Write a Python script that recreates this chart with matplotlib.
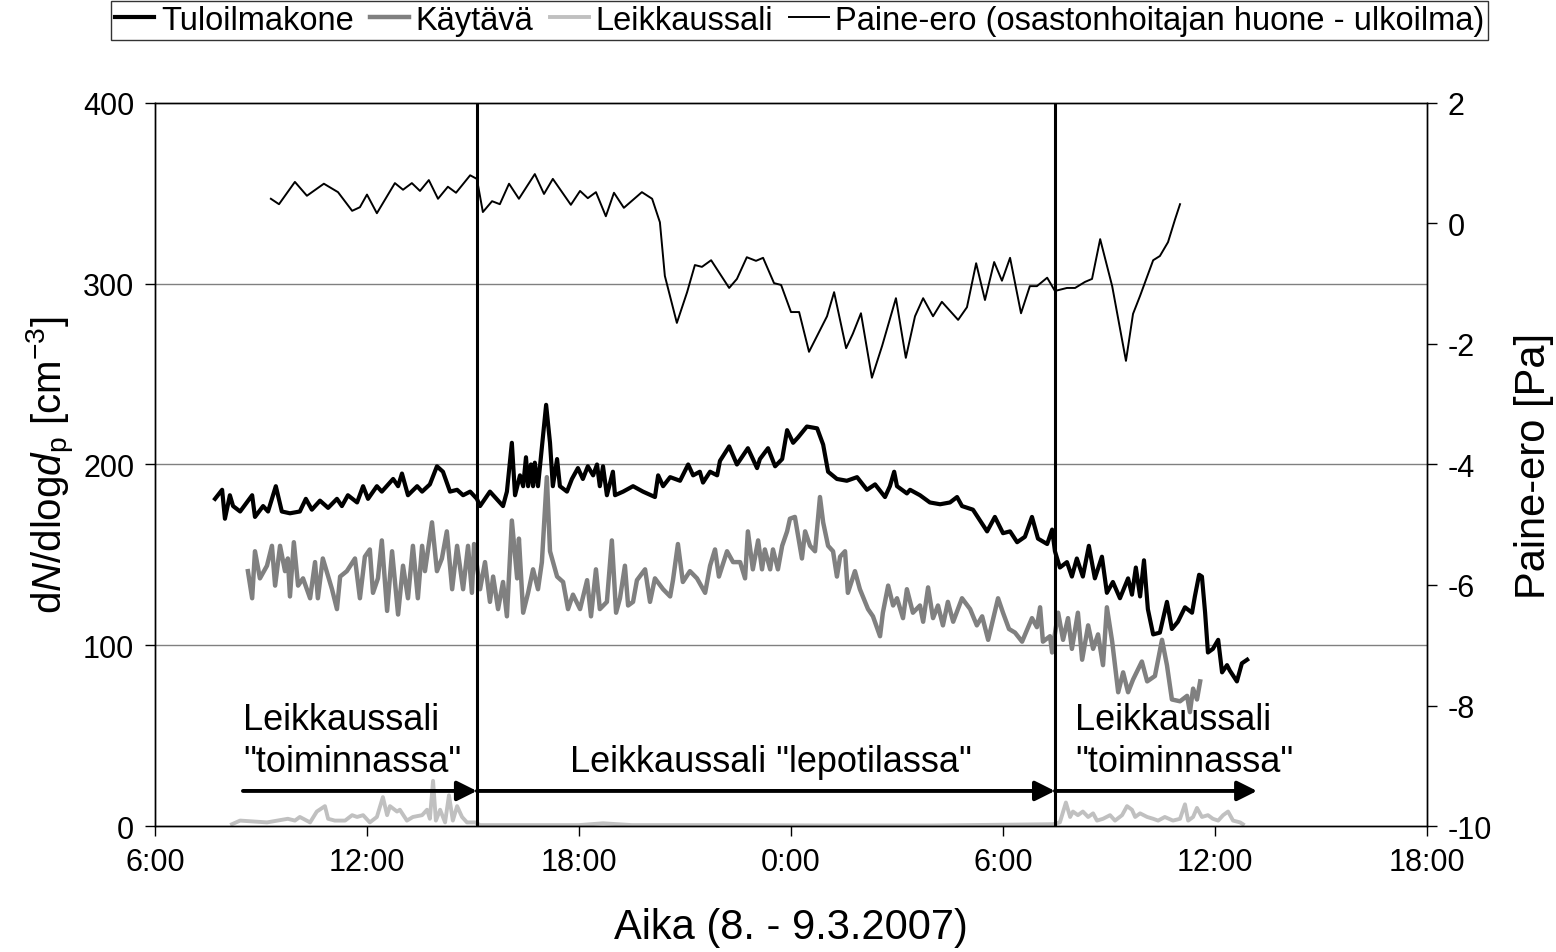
import numpy as np
import matplotlib
matplotlib.use("Agg")
import matplotlib.pyplot as plt

plt.rcParams['font.family'] = ['Liberation Sans', 'DejaVu Sans']
plt.rcParams['mathtext.fontset'] = 'custom'
plt.rcParams['mathtext.rm'] = 'Liberation Sans'
plt.rcParams['mathtext.it'] = 'Liberation Sans:italic'
plt.rcParams['axes.unicode_minus'] = False

# time in hours from 0:00 on 8.3.2007 (24 = midnight, 30 = 6:00 on 9.3.)
t_tulo = [7.70, 7.90, 7.98, 8.12, 8.21, 8.41, 8.75, 8.83, 9.06, 9.20, 9.42, 9.59, 9.82, 10.10,
          10.27, 10.44, 10.67, 10.90, 11.15, 11.29, 11.46, 11.72, 11.89, 12.03, 12.28, 12.42,
          12.74, 12.88, 12.99, 13.16, 13.42, 13.56, 13.78, 13.98, 14.15, 14.35, 14.55, 14.72,
          14.92, 15.11, 15.20, 15.48, 15.85, 15.96, 16.10, 16.19, 16.33, 16.42, 16.50, 16.56,
          16.64, 16.70, 16.75, 16.84, 17.07, 17.18, 17.26, 17.38, 17.46, 17.66, 17.80, 17.97,
          18.11, 18.25, 18.40, 18.51, 18.59, 18.68, 18.79, 18.96, 19.02, 19.25, 19.53, 19.81,
          20.15, 20.24, 20.38, 20.58, 20.86, 21.09, 21.23, 21.42, 21.51, 21.71, 21.91, 21.99,
          22.25, 22.47, 22.78, 23.04, 23.12, 23.35, 23.55, 23.75, 23.89, 24.06, 24.20, 24.45,
          24.74, 24.91, 25.05, 25.30, 25.58, 25.87, 26.15, 26.38, 26.66, 26.80, 26.92, 27.00,
          27.28, 27.37, 27.65, 27.93, 28.22, 28.50, 28.70, 28.84, 29.15, 29.55, 29.77, 30.00,
          30.20, 30.40, 30.62, 30.82, 30.99, 31.25, 31.39, 31.47, 31.61, 31.81, 31.95, 32.09,
          32.26, 32.43, 32.60, 32.80, 32.94, 33.11, 33.31, 33.54, 33.65, 33.76, 33.88, 33.99,
          34.10, 34.25, 34.44, 34.64, 34.78, 34.95, 35.15, 35.35, 35.43, 35.55, 35.63, 35.72,
          35.80, 35.94, 36.09, 36.20, 36.34, 36.42, 36.62, 36.76, 36.91]
tulo = [181, 186, 170, 183, 177, 174, 183, 171, 177, 174, 188, 174, 173, 174,
        181, 175, 180, 176, 181, 177, 183, 179, 188, 181, 188, 185,
        192, 188, 195, 183, 188, 185, 189, 199, 196, 185, 186, 183,
        185, 181, 177, 185, 177, 185, 212, 183, 194, 188, 204, 188,
        200, 188, 201, 188, 233, 212, 188, 203, 188, 185, 192, 198,
        192, 199, 194, 200, 188, 199, 183, 196, 183, 185, 188, 185,
        182, 194, 188, 193, 191, 200, 194, 196, 190, 196, 194, 202,
        210, 200, 209, 198, 203, 209, 199, 203, 219, 212, 215, 221,
        220, 211, 196, 192, 191, 193, 186, 189, 182, 188, 196, 188,
        184, 186, 183, 179, 178, 179, 182, 177, 175, 163, 171, 162,
        163, 157, 160, 171, 159, 156, 164, 152, 143, 146, 138, 148,
        138, 155, 137, 149, 129, 135, 126, 137, 128, 143, 127, 147,
        120, 106, 107, 124, 109, 113, 121, 118, 127, 139, 138, 118,
        96, 98, 103, 85, 89, 86, 80, 90, 92]

t_kaytava = [8.63, 8.75, 8.83, 8.97, 9.17, 9.31, 9.40, 9.54, 9.68, 9.76, 9.82, 9.93, 10.05,
             10.19, 10.39, 10.53, 10.61, 10.75, 11.01, 11.15, 11.24, 11.43, 11.66, 11.80, 11.94,
             12.08, 12.17, 12.31, 12.42, 12.57, 12.71, 12.88, 13.02, 13.16, 13.30, 13.44, 13.56,
             13.64, 13.84, 13.98, 14.12, 14.26, 14.41, 14.55, 14.72, 14.86, 14.97, 15.03, 15.20,
             15.34, 15.48, 15.57, 15.71, 15.85, 15.96, 16.10, 16.25, 16.30, 16.42, 16.56, 16.70,
             16.84, 16.95, 17.09, 17.18, 17.38, 17.55, 17.69, 17.83, 18.03, 18.23, 18.34, 18.48,
             18.59, 18.79, 18.93, 19.05, 19.16, 19.30, 19.39, 19.53, 19.64, 19.87, 20.01, 20.15,
             20.38, 20.58, 20.66, 20.80, 20.94, 21.14, 21.34, 21.57, 21.71, 21.85, 21.96, 22.19,
             22.36, 22.56, 22.70, 22.78, 22.92, 23.07, 23.18, 23.26, 23.41, 23.49, 23.63, 23.75,
             23.89, 23.97, 24.11, 24.31, 24.40, 24.54, 24.68, 24.82, 24.91, 25.05, 25.19, 25.30,
             25.39, 25.53, 25.61, 25.81, 25.95, 26.18, 26.32, 26.52, 26.60, 26.75, 26.89, 27.00,
             27.17, 27.28, 27.45, 27.65, 27.74, 27.88, 28.02, 28.16, 28.30, 28.44, 28.59, 28.84,
             29.07, 29.26, 29.41, 29.58, 29.86, 30.00, 30.17, 30.34, 30.54, 30.82, 30.96, 31.05,
             31.13, 31.33, 31.39, 31.56, 31.70, 31.84, 31.95, 32.12, 32.24, 32.41, 32.55, 32.69,
             32.83, 32.94, 33.09, 33.26, 33.40, 33.54, 33.68, 33.93, 34.08, 34.30, 34.50, 34.64,
             34.78, 35.01, 35.21, 35.29, 35.38, 35.49, 35.58]
kaytava = [141, 126, 152, 137, 144, 155, 133, 155, 141, 148, 127, 157, 133,
           137, 126, 146, 126, 148, 131, 120, 138, 141, 148, 126, 149,
           153, 129, 137, 158, 119, 152, 117, 144, 126, 155, 126, 155,
           141, 168, 141, 148, 163, 131, 155, 131, 155, 129, 156, 131,
           146, 124, 138, 120, 135, 116, 169, 137, 159, 118, 129, 142,
           131, 146, 193, 152, 138, 135, 120, 128, 120, 136, 116, 142,
           120, 124, 158, 118, 126, 144, 122, 124, 136, 142, 124, 137,
           131, 127, 136, 156, 135, 141, 137, 129, 144, 153, 138, 152,
           146, 146, 137, 163, 142, 158, 142, 153, 142, 153, 142, 155,
           163, 170, 171, 148, 163, 155, 152, 182, 168, 155, 152, 138,
           149, 152, 129, 141, 131, 120, 116, 105, 118, 133, 122, 126,
           115, 131, 118, 122, 113, 132, 115, 122, 111, 124, 113, 126,
           120, 111, 116, 103, 126, 118, 109, 107, 102, 115, 110, 121,
           102, 105, 96, 118, 103, 115, 98, 118, 92, 111, 98, 106,
           89, 121, 102, 74, 85, 74, 81, 91, 80, 83, 103, 89,
           70, 69, 72, 63, 76, 70, 80]

t_sali = [8.18, 8.41, 9.17, 9.76, 9.96, 10.10, 10.39, 10.58, 10.81, 10.90, 11.09, 11.38, 11.58,
          11.72, 11.89, 12.08, 12.28, 12.45, 12.57, 12.65, 12.85, 12.93, 13.13, 13.30, 13.56,
          13.70, 13.78, 13.87, 13.95, 14.07, 14.21, 14.32, 14.43, 14.55, 14.69, 14.83, 15.06,
          15.20, 16.00, 18.00, 18.68, 19.50, 22.00, 25.00, 28.00, 31.42, 31.61, 31.78, 31.90,
          31.98, 32.12, 32.26, 32.41, 32.55, 32.66, 32.83, 33.03, 33.17, 33.37, 33.51, 33.65,
          33.74, 33.88, 34.08, 34.25, 34.39, 34.58, 34.81, 35.01, 35.15, 35.24, 35.38, 35.49,
          35.63, 35.80, 35.94, 36.09, 36.23, 36.37, 36.51, 36.71, 36.79]
sali = [1, 3, 2, 4, 3, 5, 2, 8, 11, 4, 3, 3, 6,
        5, 6, 2, 5, 16, 6, 11, 8, 9, 3, 5, 6,
        9, 4, 25, 3, 9, 2, 17, 3, 11, 5, 2, 2,
        0.5, 0.5, 0.5, 1.5, 0.5, 0.5, 0.3, 0.3, 1, 2, 13, 5,
        8, 6, 8, 5, 7, 3, 4, 6, 3, 6, 11, 9,
        5, 7, 5, 4, 3, 5, 3, 4, 12, 3, 5, 10,
        5, 6, 4, 3, 6, 8, 3, 2, 1]

t_paine = [9.28, 9.51, 9.96, 10.30, 10.78, 11.18, 11.58, 11.80, 12.00, 12.28, 12.79, 13.02, 13.27,
           13.50, 13.75, 14.01, 14.29, 14.52, 14.92, 15.11, 15.28, 15.54, 15.76, 16.02, 16.30,
           16.75, 17.01, 17.26, 17.77, 18.03, 18.25, 18.48, 18.76, 18.99, 19.27, 19.78, 20.07,
           20.29, 20.43, 20.77, 21.06, 21.28, 21.48, 21.74, 22.25, 22.47, 22.75, 23.01, 23.21,
           23.52, 23.72, 24.00, 24.23, 24.51, 25.02, 25.22, 25.56, 25.75, 25.98, 26.29, 26.58,
           26.97, 27.25, 27.51, 27.74, 28.02, 28.27, 28.73, 28.98, 29.24, 29.49, 29.75, 29.97,
           30.20, 30.51, 30.76, 30.96, 31.25, 31.47, 31.81, 32.04, 32.32, 32.52, 32.75, 33.09,
           33.48, 33.68, 33.88, 34.25, 34.44, 34.67, 34.87, 35.01]
paine = [0.41, 0.32, 0.69, 0.46, 0.66, 0.52, 0.21, 0.27, 0.48, 0.17, 0.67, 0.56, 0.67,
         0.54, 0.72, 0.41, 0.61, 0.51, 0.80, 0.74, 0.19, 0.37, 0.32, 0.66, 0.41,
         0.82, 0.49, 0.74, 0.31, 0.54, 0.42, 0.52, 0.12, 0.51, 0.26, 0.52, 0.41,
         0.02, -0.87, -1.65, -1.14, -0.69, -0.72, -0.61, -1.07, -0.92, -0.56, -0.62, -0.57,
         -0.99, -1.02, -1.47, -1.47, -2.13, -1.54, -1.14, -2.07, -1.83, -1.49, -2.56, -2.03,
         -1.24, -2.23, -1.54, -1.24, -1.54, -1.30, -1.60, -1.39, -0.66, -1.27, -0.64, -0.95,
         -0.57, -1.49, -1.04, -1.04, -0.90, -1.12, -1.07, -1.07, -0.97, -0.92, -0.26, -1.04,
         -2.28, -1.50, -1.20, -0.61, -0.54, -0.31, 0.07, 0.32]

x_ticks = [6, 12, 18, 24, 30, 36, 42]
x_labels = ['6:00', '12:00', '18:00', '0:00', '6:00', '12:00', '18:00']
phase_changes = [15.11, 31.47]
arrow_y = 19.4
arrows = [(8.49, 15.11), (15.11, 31.47), (31.47, 37.19)]

fig = plt.figure(figsize=(15.56, 9.53), dpi=100)
ax = fig.add_axes([0.0996, 0.1322, 0.8175, 0.7587])
ax2 = ax.twinx()

ax.set_xlim(6, 42)
ax.set_ylim(0, 400)
ax.set_yticks([0, 100, 200, 300, 400])
ax.set_xticks(x_ticks)
ax.set_xticklabels(x_labels)
for yv in [100, 200, 300]:
    ax.axhline(yv, color='#808080', lw=1.0, zorder=0)

l1, = ax.plot(t_tulo, tulo, color='black', lw=3.0, label='Tuloilmakone', zorder=3)
l2, = ax.plot(t_kaytava, kaytava, color='#808080', lw=3.2, label='Käytävä', zorder=2)
l3, = ax.plot(t_sali, sali, color='#c0c0c0', lw=2.8, label='Leikkaussali', zorder=2)

for xc in phase_changes:
    ax.axvline(xc, color='black', lw=2.2, zorder=4)

for x0, x1 in arrows:
    ax.annotate('', xy=(x1, arrow_y), xytext=(x0, arrow_y),
                arrowprops=dict(arrowstyle='-|>', color='black', lw=2.8,
                                mutation_scale=30, shrinkA=0, shrinkB=0), zorder=5)

ann_size = 26
for xt in (8.49, 32.04):
    ax.text(xt, 53.7, 'Leikkaussali', fontsize=ann_size, ha='left', va='baseline')
    ax.text(xt, 30.4, '"toiminnassa"', fontsize=ann_size, ha='left', va='baseline')
ax.text(23.43, 30.4, 'Leikkaussali "lepotilassa"', fontsize=ann_size, ha='center', va='baseline')

l4, = ax2.plot(t_paine, paine, color='black', lw=1.4,
               label='Paine-ero (osastonhoitajan huone - ulkoilma)')
ax2.set_ylim(-10, 2)
ax2.set_yticks([-10, -8, -6, -4, -2, 0, 2])

for a in (ax, ax2):
    a.tick_params(labelsize=22, length=7, width=1, direction='out', pad=8)
    for s in a.spines.values():
        s.set_linewidth(1.0)

ax.set_xlabel('Aika (8. - 9.3.2007)', fontsize=30, labelpad=22)
ax.set_ylabel(r'd$\it{N}$/dlog$\it{d}_\mathrm{p}$ [cm$^{-3}$]', fontsize=29, labelpad=4)
ax2.set_ylabel('Paine-ero [Pa]', fontsize=30, labelpad=16)

fig.legend(handles=[l1, l2, l3, l4], loc='upper center', bbox_to_anchor=(0.514, 0.998),
           ncol=4, fontsize=23.5, frameon=True, fancybox=False, edgecolor='black',
           handlelength=1.2, handletextpad=0.2, columnspacing=0.5, borderpad=0.12,
           borderaxespad=0)

fig.savefig('out.png', dpi=100)
